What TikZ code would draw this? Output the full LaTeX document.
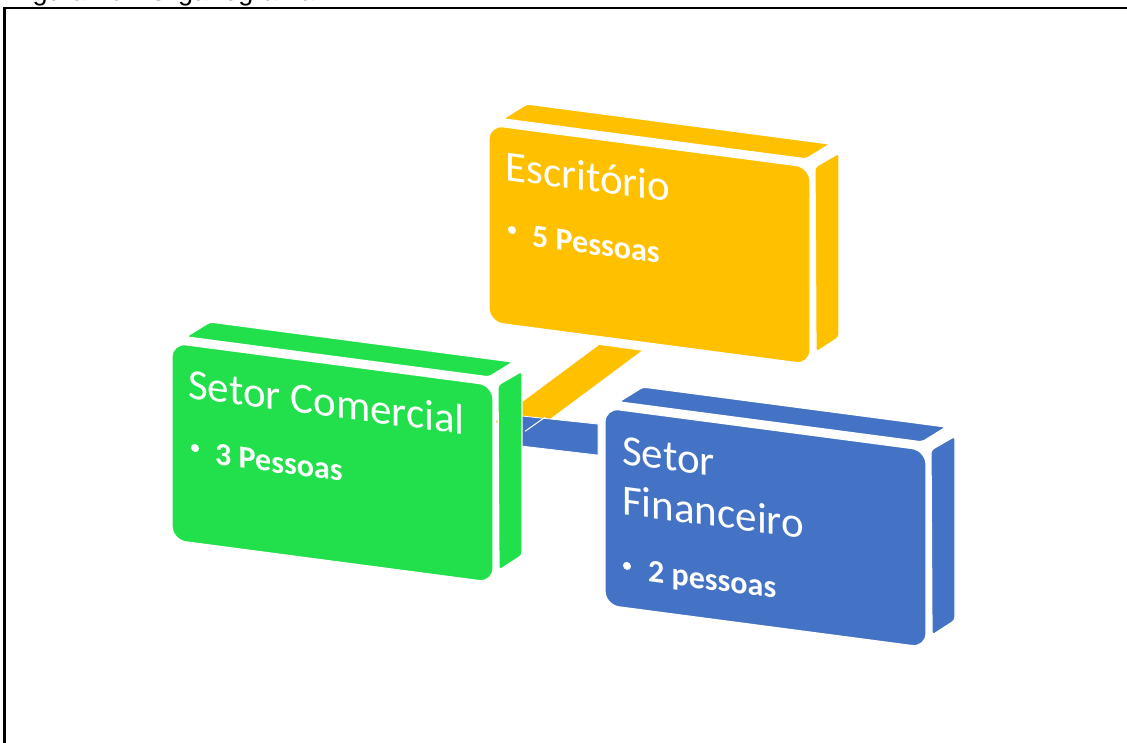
\documentclass[tikz,border=0pt]{standalone}
\usepackage{fontspec}
\setmainfont{Carlito}
\newfontfamily\captionfont{Liberation Sans}
\usetikzlibrary{calc,backgrounds}

\definecolor{escritorio}{HTML}{FFC000}
\definecolor{comercial}{RGB}{33,224,75}
\definecolor{financeiro}{HTML}{4472C4}

\tikzset{
  facefill/.style={fill=#1, draw=white, line width=1.2pt},
  frontface/.style={facefill=#1, rounded corners=14pt},
  edgeface/.style={facefill=#1, rounded corners=3pt},
  block/.style={shift={#1}, yslant=-0.132},
  titletext/.style={anchor=base west, inner sep=0pt, text=white,
    font=\fontsize{43}{50}\selectfont, transform shape},
  itemtext/.style={anchor=base west, inner sep=0pt, text=white,
    font=\bfseries\fontsize{32}{38}\selectfont, transform shape},
  bulletdot/.style={circle, fill=white, draw=none, inner sep=0pt,
    minimum size=8pt, transform shape},
  barfill/.style={fill=#1, draw=white, line width=0.8pt},
}

% front, top and right faces of one 3-D box, in the box's slanted frame
\newcommand\boxfaces[1]{%
  \path[edgeface=#1] (14,-8) -- (317,-8) -- (341,-26) -- (38,-26) -- cycle;
  \path[edgeface=#1] (326,-1) -- (350,-18) -- (350,166) -- (327,184) -- cycle;
  \path[frontface=#1] (0,0) rectangle (321,197);
}

\begin{document}
\begin{tikzpicture}[x=1pt, y=-1pt]
  \useasboundingbox (0,0) rectangle (1127,742);
  \clip (0,0) rectangle (1127,742);

  % caption and frame
  \node[font=\captionfont\fontsize{27}{32}\selectfont, anchor=base west,
        inner sep=0pt] (caption) at (10,0) {Figura 10 - Organograma};
  \draw[line width=2.5pt] (4.7,7.8) rectangle (1140,760);

  % Escritorio
  \begin{scope}[block={(489,125)}]
    \boxfaces{escritorio}
    \node[titletext] (esc-title) at (16,53) {Escritório};
    \node[bulletdot] (esc-dot) at (23,102) {};
    \node[itemtext] (esc-item) at (43,116) {5 Pessoas};
    \coordinate (esc-foot) at (132,205);
  \end{scope}

  % Setor Comercial
  \begin{scope}[block={(172,343)}]
    \boxfaces{comercial}
    \node[titletext] (com-title) at (16,53) {Setor Comercial};
    \node[bulletdot] (com-dot) at (23,102) {};
    \node[itemtext] (com-item) at (43,116) {3 Pessoas};
    \coordinate (com-foot) at (344,37);
    \coordinate (com-side) at (343,42);
  \end{scope}

  % Setor Financeiro
  \begin{scope}[block={(605,408)}]
    \boxfaces{financeiro}
    \node[titletext] (fin-title1) at (17,54) {Setor};
    \node[titletext] (fin-title2) at (17,104) {Financeiro};
    \node[bulletdot] (fin-dot) at (22,155) {};
    \node[itemtext] (fin-item) at (43,168) {2 pessoas};
    \coordinate (fin-side) at (-7,33);
  \end{scope}

  % connecting bars, behind the boxes
  \begin{scope}[on background layer]
    \path[barfill=escritorio]
      ($(esc-foot)+(-22,-3)$) -- ($(esc-foot)+(22,3)$) --
      ($(com-foot)+(22,3)$) -- ($(com-foot)+(-22,-3)$) -- cycle;
    \path[barfill=financeiro]
      ($(com-side)+(0,-15)$) -- ($(fin-side)+(0,-16)$) --
      ($(fin-side)+(0,15)$) -- ($(com-side)+(0,15)$) -- cycle;
    \draw[white, line width=1pt]
      ($(com-side)+(10,1)$) -- ($(com-side)+(30,-13)$);
  \end{scope}
\end{tikzpicture}
\end{document}
